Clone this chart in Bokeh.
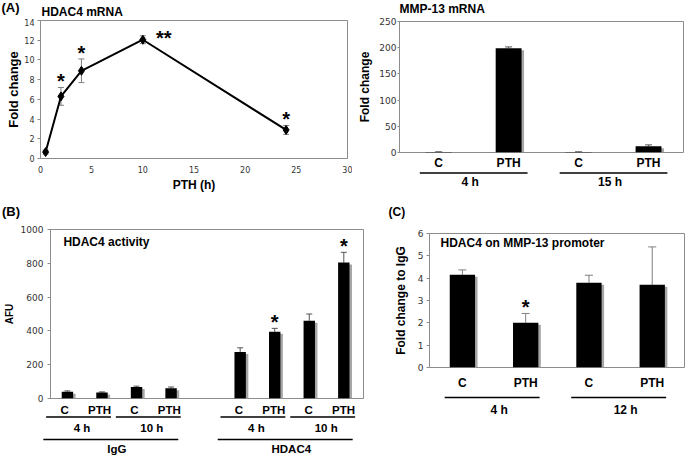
from bokeh.plotting import figure
from bokeh.models import Range1d, Whisker, TeeHead, ColumnDataSource, FixedTicker
from bokeh.layouts import row, column
from bokeh.embed import file_html
from bokeh.resources import INLINE
from bokeh.core.properties import value

# ---------------- data ----------------
a1_hours = [0.5, 2, 4, 10, 24]
a1_fold = [0.65, 6.3, 8.9, 12.05, 2.9]
a1_err = [0.2, 0.9, 1.2, 0.4, 0.45]
a1_sig = ["", "*", "*", "**", "*"]
a1_xticks = [0, 5, 10, 15, 20, 25, 30]
a1_yticks = [0, 2, 4, 6, 8, 10, 12, 14]

a2_treat = ["C", "PTH", "C", "PTH"]
a2_time = ["4 h", "4 h", "15 h", "15 h"]
a2_fold = [1.0, 199.0, 1.0, 12.0]
a2_err = [0.4, 2.5, 0.4, 2.5]
a2_yticks = [0, 50, 100, 150, 200, 250]

b_treat = ["C", "PTH", "C", "PTH", "C", "PTH", "C", "PTH"]
b_time = ["4 h", "4 h", "10 h", "10 h", "4 h", "4 h", "10 h", "10 h"]
b_ab = ["IgG", "IgG", "IgG", "IgG", "HDAC4", "HDAC4", "HDAC4", "HDAC4"]
b_afu = [40, 35, 68, 60, 275, 395, 460, 805]
b_err = [5, 4, 5, 8, 25, 20, 40, 60]
b_sig = ["", "", "", "", "", "*", "", "*"]
b_yticks = [0, 200, 400, 600, 800, 1000]

c_treat = ["C", "PTH", "C", "PTH"]
c_time = ["4 h", "4 h", "12 h", "12 h"]
c_fold = [4.15, 2.0, 3.8, 3.7]
c_err = [0.22, 0.42, 0.33, 1.7]
c_sig = ["", "*", "", ""]
c_yticks = [0, 1, 2, 3, 4, 5, 6]

# ---------------- layout helpers ----------------
FONT = "Liberation Sans"
TICKFONT = "DejaVu Sans"
GRAY = "#8c8c8c"
BASE_SHIFT = 0.45   # measured drop of rendered text below its anchor, in em


class Box:
    def __init__(self, fx0, fx1, fy0, fy1, L, R, T, B, xr, yr):
        self.fx0, self.fx1, self.fy0, self.fy1 = fx0, fx1, fy0, fy1
        self.L, self.R, self.T, self.B = L, R, T, B
        self.xr, self.yr = xr, yr

    def X(self, px):
        return self.xr[0] + (px - self.L) / (self.R - self.L) * (self.xr[1] - self.xr[0])

    def Y(self, py):
        return self.yr[0] + (self.B - py) / (self.B - self.T) * (self.yr[1] - self.yr[0])

    def ux(self):
        return (self.xr[1] - self.xr[0]) / (self.R - self.L)

    def uy(self):
        return (self.yr[1] - self.yr[0]) / (self.B - self.T)

    def fig(self, yaxis=False, xaxis=False, outline=True):
        p = figure(width=self.fx1 - self.fx0, height=self.fy1 - self.fy0,
                   x_range=Range1d(*self.xr), y_range=Range1d(*self.yr),
                   output_backend="svg", toolbar_location=None, title=None,
                   x_axis_location="below" if xaxis else None,
                   y_axis_location="left" if yaxis else None,
                   min_border=0,
                   min_border_left=self.L - self.fx0,
                   min_border_right=self.fx1 - self.R,
                   min_border_top=self.T - self.fy0,
                   min_border_bottom=self.fy1 - self.B)
        p.frame_align = False
        p.grid.visible = False
        p.background_fill_color = "white"
        p.border_fill_color = "white"
        p.outline_line_color = GRAY if outline else None
        return p

    def strip(self, fy0, fy1):
        return Box(self.fx0, self.fx1, fy0, fy1, self.fx0, self.fx1, fy0, fy1,
                   (self.X(self.fx0), self.X(self.fx1)), (0, fy1 - fy0))


def header(fx0, fx1, fy0, fy1):
    return Box(fx0, fx1, fy0, fy1, fx0, fx1, fy0, fy1, (fx0, fx1), (0, fy1 - fy0))


def style_axis(ax, ticks, size, tick_out, standoff, label, label_size, label_standoff):
    ax.ticker = FixedTicker(ticks=ticks)
    ax.axis_line_color = GRAY
    ax.major_tick_line_color = GRAY
    ax.major_tick_out = tick_out
    ax.major_tick_in = 0
    ax.minor_tick_line_color = None
    ax.major_label_text_font = TICKFONT
    ax.major_label_text_font_size = size
    ax.major_label_text_color = "#333333"
    ax.major_label_standoff = standoff
    ax.axis_label = label
    ax.axis_label_text_font = FONT
    ax.axis_label_text_font_style = "bold"
    ax.axis_label_text_font_size = label_size
    ax.axis_label_text_color = "black"
    ax.axis_label_standoff = label_standoff


def bars(p, box, xs, tops, width):
    sh_x, sh_y = 2.5 * box.ux(), 2.0 * box.uy()
    p.vbar(x=[x + sh_x for x in xs], top=[max(t - sh_y, 0) for t in tops], width=width,
           fill_color="#a6a6a6", line_color=None)
    p.vbar(x=xs, top=tops, width=width, fill_color="black", line_color=None)


def whisk(p, xs, lower, upper, color, size, both=False):
    src = ColumnDataSource(dict(x=xs, lower=lower, upper=upper))
    w = Whisker(source=src, base="x", lower="lower", upper="upper", line_color=color, line_width=1,
                upper_head=TeeHead(size=size, line_color=color, line_width=1),
                lower_head=TeeHead(size=size, line_color=color, line_width=1) if both else None)
    p.add_layout(w)


def stars(p, xs, ys, marks, xoffs, yoffs):
    sel = [i for i, m in enumerate(marks) if m]
    p.text(x=[xs[i] for i in sel], y=[ys[i] for i in sel], text=[marks[i] for i in sel],
           x_offset=[xoffs[i] for i in sel], y_offset=[yoffs[i] for i in sel],
           text_font=value(FONT), text_font_style="bold", text_font_size="20px",
           text_align="center", text_baseline="alphabetic", text_color="black")


def texts(p, box, xs, base_px, labels, fs=12, align="center"):
    """xs in data units, base_px = wanted baseline in page pixels."""
    y = box.Y(base_px - BASE_SHIFT * fs)
    p.text(x=xs, y=[y] * len(xs), text=labels, text_font=value(FONT), text_font_style="bold",
           text_font_size="%gpx" % fs, text_align=align, text_baseline="alphabetic",
           text_color="black")


def runs(keys):
    out = []
    for i, k in enumerate(keys):
        if out and out[-1][0] == k:
            out[-1][1].append(i)
        else:
            out.append((k, [i]))
    return out


def group_rows(p, box, pos, keys, names, y_line, y_text, pad_l, pad_r, shift=0.0, lw=1.5, fs=12):
    x0s, x1s, tx, tt = [], [], [], []
    for k, idx in runs(keys):
        x0s.append(pos[idx[0]] - pad_l)
        x1s.append(pos[idx[-1]] + pad_r)
        tx.append(sum(pos[i] for i in idx) / len(idx) + shift)
        tt.append(names(k))
    n = len(x0s)
    p.segment(x0=x0s, y0=[box.Y(y_line)] * n, x1=x1s, y1=[box.Y(y_line)] * n,
              line_color="black", line_width=lw)
    texts(p, box, tx, y_text, tt, fs)


STAR_UP = -6.4      # screen offset of a "*" above an error bar
STAR_SIDE = -1.4    # screen offset of a "**" beside a point

# ---------------- panel A, left: HDAC4 mRNA time course ----------------
A1H = header(0, 352, 0, 18)
pA1H = A1H.fig(outline=False)
texts(pA1H, A1H, [A1H.X(1)], 12.5, ["(A)"], 13, "left")
texts(pA1H, A1H, [A1H.X(41)], 16.6, ["HDAC4 mRNA"], 12, "left")

A1 = Box(0, 352, 18, 195, 40, 347, 20, 158, (0, 30), (0, 14))
pA1 = A1.fig(yaxis=True, xaxis=True)
style_axis(pA1.yaxis[0], a1_yticks, "8px", 3, 3, "Fold change", "13px", 0)
style_axis(pA1.xaxis[0], a1_xticks, "8px", 0, 7, "PTH (h)", "12px", 2)
whisk(pA1, a1_hours, [f - e for f, e in zip(a1_fold, a1_err)],
      [f + e for f, e in zip(a1_fold, a1_err)], "#7f7f7f", 6, both=True)
pA1.line(a1_hours, a1_fold, line_color="black", line_width=2)
pA1.scatter(a1_hours, a1_fold, marker="diamond", size=9, color="black")
a1_sy = [f + e if m == "*" else f for f, e, m in zip(a1_fold, a1_err, a1_sig)]
stars(pA1, a1_hours, a1_sy, a1_sig,
      [21 if m == "**" else 0 for m in a1_sig],
      [STAR_SIDE if m == "**" else STAR_UP for m in a1_sig])

# ---------------- panel A, right: MMP-13 mRNA ----------------
a2_pos = list(range(len(a2_fold)))
A2H = header(352, 685, 0, 17)
pA2H = A2H.fig(outline=False)
texts(pA2H, A2H, [A2H.X(399)], 13.8, ["MMP-13 mRNA"], 12, "left")

A2 = Box(352, 685, 17, 157, 399, 683, 21, 152, (-0.56, 3.5), (0, 250))
pA2 = A2.fig(yaxis=True)
style_axis(pA2.yaxis[0], a2_yticks, "9px", 2, 1, "Fold change", "12px", 4)
whisk(pA2, a2_pos, a2_fold, [f + e for f, e in zip(a2_fold, a2_err)], "#555555", 7)
bars(pA2, A2, a2_pos, a2_fold, 0.37)

A2L = A2.strip(157, 195)
pA2L = A2L.fig(outline=False)
texts(pA2L, A2L, a2_pos, 168, a2_treat)
group_rows(pA2L, A2L, a2_pos, a2_time, lambda k: k, 172.5, 186.5, 0.27, 0.27, shift=-0.05)

# ---------------- panel B: HDAC4 activity ----------------
ab_groups = [k for k, _ in runs(b_ab)]
b_pos = [i + ab_groups.index(g) for i, g in enumerate(b_ab)]
BH = header(0, 368, 195, 223)
pBH = BH.fig(outline=False)
texts(pBH, BH, [BH.X(1.5)], 217, ["(B)"], 13, "left")

B = Box(0, 368, 223, 404, 47, 363, 229, 398, (-0.49, 8.57), (0, 1000))
pB = B.fig(yaxis=True)
style_axis(pB.yaxis[0], b_yticks, "9px", 3, 4, "AFU", "10px", 3)
whisk(pB, b_pos, b_afu, [f + e for f, e in zip(b_afu, b_err)], "#555555", 6)
bars(pB, B, b_pos, b_afu, 0.33)
stars(pB, b_pos, [f + e for f, e in zip(b_afu, b_err)], b_sig, [0] * 8, [STAR_UP] * 8)
texts(pB, B, [B.X(60)], 246.5, ["HDAC4 activity"], 12, "left")

BL = B.strip(404, 457)
pBL = BL.fig(outline=False)
texts(pBL, BL, b_pos, 415, b_treat, 11.5)
group_rows(pBL, BL, b_pos, list(zip(b_ab, b_time)), lambda k: k[1], 416.5, 432.7, 0.53, 0.33,
           fs=11.5)
group_rows(pBL, BL, b_pos, b_ab, lambda k: k, 439, 453.3, 0.61, 0.26, fs=11.5)

# ---------------- panel C: ChIP ----------------
c_pos = list(range(len(c_fold)))
CH = header(368, 685, 195, 225)
pCH = CH.fig(outline=False)
texts(pCH, CH, [CH.X(388)], 216.5, ["(C)"], 12, "left")

C = Box(368, 685, 225, 373, 429, 684, 233, 367, (-0.52, 3.51), (0, 6))
pC = C.fig(yaxis=True)
style_axis(pC.yaxis[0], c_yticks, "9px", 3, 3, "Fold change to IgG", "12px", 7)
whisk(pC, c_pos, c_fold, [f + e for f, e in zip(c_fold, c_err)], "#7f7f7f", 8)
bars(pC, C, c_pos, c_fold, 0.4)
stars(pC, c_pos, [f + e for f, e in zip(c_fold, c_err)], c_sig, [0] * 4, [STAR_UP] * 4)
texts(pC, C, [C.X(440)], 248, ["HDAC4 on MMP-13 promoter"], 12, "left")

CL = C.strip(373, 457)
pCL = CL.fig(outline=False)
texts(pCL, CL, c_pos, 388, c_treat)
group_rows(pCL, CL, c_pos, c_time, lambda k: k, 397, 415, 0.28, 0.22, shift=0.08)

layout = column(
    row(column(pA1H, pA1), column(pA2H, pA2, pA2L)),
    row(column(pBH, pB, pBL), column(pCH, pC, pCL)),
)
open("out.html", "w").write(file_html(layout, INLINE))
